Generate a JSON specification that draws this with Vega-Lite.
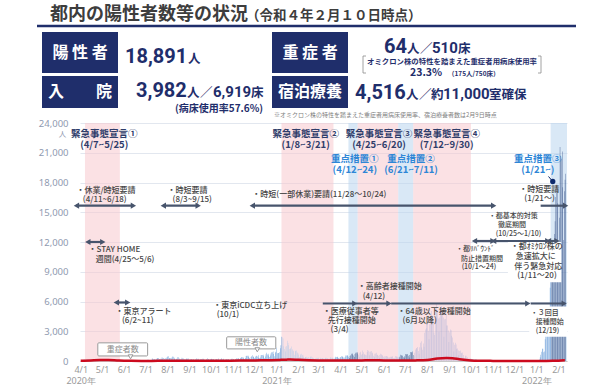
{
"$schema":"https://vega.github.io/schema/vega-lite/v6.json",
"padding":0,
"spacing":0,
"background":"white",
"datasets":{
"hdr":[
{"t":"都内の陽性者数等の状況","x":50,"y":15,"k":"h1"},
{"t":"（令和４年２月１０日時点）","x":246,"y":16,"k":"h2"},
{"t":"陽  性  者","x":80,"y":53,"k":"bx"},
{"t":"入　　院","x":80,"y":92,"k":"bx"},
{"t":"重  症  者","x":310,"y":53,"k":"bx"},
{"t":"宿泊療養","x":310,"y":92,"k":"bx"},
{"t":"18,891","x":125,"y":63,"k":"big"},
{"t":"3,982","x":136,"y":97,"k":"big"},
{"t":"64","x":384,"y":53,"k":"big"},
{"t":"4,516","x":355,"y":99,"k":"big"},
{"t":"6,919","x":213,"y":97,"k":"mid"},
{"t":"510","x":432,"y":53,"k":"mid"},
{"t":"11,000","x":443,"y":99,"k":"mid"},
{"t":"人","x":188,"y":63,"k":"unit"},
{"t":"人","x":187,"y":97,"k":"unit"},
{"t":"／","x":200,"y":97,"k":"unit"},
{"t":"床","x":251,"y":97,"k":"unit"},
{"t":"人","x":407,"y":53,"k":"unit"},
{"t":"／","x":420,"y":53,"k":"unit"},
{"t":"床","x":458,"y":53,"k":"unit"},
{"t":"人","x":406,"y":99,"k":"unit"},
{"t":"／","x":419,"y":99,"k":"unit"},
{"t":"約","x":431,"y":99,"k":"unit"},
{"t":"室確保","x":489,"y":99,"k":"unit"},
{"t":"(病床使用率57.6%)","x":175,"y":109,"k":"s1"},
{"t":"オミクロン株の特性を踏まえた重症者用病床使用率","x":452,"y":62,"k":"s2"},
{"t":"23.3%","x":410,"y":76,"k":"s3"},
{"t":"（175人/750床）","x":448,"y":76,"k":"s4"},
{"t":"※オミクロン株の特性を踏まえた重症者用病床使用率、宿泊療養者数は2月9日時点","x":274,"y":115,"k":"nt"}
],
"hbox":[
{"x":42,"x2":118,"y":32,"y2":73},
{"x":42,"x2":118,"y":76,"y2":108},
{"x":272,"x2":348,"y":32,"y2":73},
{"x":272,"x2":348,"y":76,"y2":108}
],
"hline":[
{"x":37,"x2":576,"y":26,"y2":26,"k":"u"},
{"x":363,"x2":363,"y":56,"y2":73,"k":"b"},
{"x":363,"x2":366,"y":56,"y2":56,"k":"b"},
{"x":363,"x2":366,"y":73,"y2":73,"k":"b"},
{"x":541,"x2":541,"y":56,"y2":73,"k":"b"},
{"x":538,"x2":541,"y":56,"y2":56,"k":"b"},
{"x":538,"x2":541,"y":73,"y2":73,"k":"b"}
],
"bands":[
{"a":"2020-04-07","b":"2020-05-26","t":"e"},
{"a":"2021-01-08","b":"2021-03-22","t":"e"},
{"a":"2021-04-12","b":"2021-04-25","t":"k"},
{"a":"2021-04-25","b":"2021-06-21","t":"e"},
{"a":"2021-06-21","b":"2021-07-12","t":"k"},
{"a":"2021-07-12","b":"2021-10-01","t":"e"},
{"a":"2022-01-21","b":"2022-02-13","t":"k"}
],
"sev":[
{"d":"2020-04-01","v":20},{"d":"2020-04-15","v":60},{"d":"2020-04-28","v":105},{"d":"2020-05-10","v":90},{"d":"2020-05-25","v":40},{"d":"2020-06-10","v":15},{"d":"2020-06-25","v":6},{"d":"2020-07-10","v":7},{"d":"2020-07-25","v":20},{"d":"2020-08-10","v":25},{"d":"2020-08-25","v":33},{"d":"2020-09-10","v":26},{"d":"2020-09-25","v":24},{"d":"2020-10-10","v":26},{"d":"2020-10-25","v":30},{"d":"2020-11-10","v":38},{"d":"2020-11-25","v":55},{"d":"2020-12-10","v":64},{"d":"2020-12-25","v":81},{"d":"2021-01-05","v":108},{"d":"2021-01-15","v":135},{"d":"2021-01-20","v":160},{"d":"2021-02-01","v":120},{"d":"2021-02-15","v":84},{"d":"2021-03-01","v":54},{"d":"2021-03-15","v":40},{"d":"2021-04-01","v":42},{"d":"2021-04-15","v":45},{"d":"2021-05-01","v":62},{"d":"2021-05-15","v":80},{"d":"2021-06-01","v":55},{"d":"2021-06-15","v":43},{"d":"2021-07-01","v":48},{"d":"2021-07-15","v":60},{"d":"2021-08-01","v":100},{"d":"2021-08-15","v":250},{"d":"2021-08-28","v":297},{"d":"2021-09-05","v":280},{"d":"2021-09-15","v":180},{"d":"2021-10-01","v":60},{"d":"2021-10-15","v":27},{"d":"2021-11-01","v":12},{"d":"2021-11-15","v":5},{"d":"2021-12-01","v":3},{"d":"2021-12-15","v":1},{"d":"2022-01-01","v":3},{"d":"2022-01-15","v":5},{"d":"2022-01-25","v":17},{"d":"2022-02-01","v":30},{"d":"2022-02-10","v":64}
],
"arr":[
{"a":"2020-03-26","b":"2020-06-14","y":15660,"h":"2"},
{"a":"2020-07-26","b":"2020-09-13","y":15660,"h":"2"},
{"a":"2020-11-28","b":"2021-11-02","y":15660,"h":"2"},
{"a":"2022-01-07","b":"2022-02-11","y":15660,"h":"r"},
{"a":"2021-10-06","b":"2021-11-01","y":12100,"h":"2"},
{"a":"2021-11-02","b":"2022-01-17","y":12100,"h":"2"},
{"a":"2022-01-18","b":"2022-01-30","y":12100,"h":"2"},
{"a":"2020-04-11","b":"2020-05-02","y":12000,"h":"2"},
{"a":"2020-05-21","b":"2020-06-06","y":5900,"h":"2"},
{"a":"2021-03-07","b":"2021-04-21","y":5800,"h":"r"},
{"a":"2021-04-22","b":"2021-06-08","y":5800,"h":"r"},
{"a":"2021-06-11","b":"2021-12-20","y":5800,"h":"r"},
{"a":"2021-12-24","b":"2022-02-09","y":5800,"h":"r"}
],
"boxes":[
{"a":"2020-04-25","b":"2020-07-04","y1":510,"y2":1830,"k":"c"},
{"a":"2020-10-23","b":"2020-12-31","y1":1220,"y2":2440,"k":"c"},
{"a":"2021-11-22","b":"2022-02-05","y1":7930,"y2":12000,"k":"w"},
{"a":"2021-12-22","b":"2022-02-13","y1":2440,"y2":5490,"k":"w"}
],
"ptr":[
{"d":"2020-06-10","v":420},
{"d":"2020-12-05","v":1130}
],
"lead":[
{"a":"2022-01-18","b":"2022-01-24","y1":18610,"y2":18100}
],
"dot":[
{"d":"2022-01-24","v":18100}
],
"ann":[
{"t":"緊急事態宣言①","d":"2020-05-04","y":22880,"k":"e"},
{"t":"(4/7~5/25)","d":"2020-05-04","y":21760,"k":"e"},
{"t":"緊急事態宣言②","d":"2021-02-11","y":22880,"k":"e"},
{"t":"(1/8~3/21)","d":"2021-02-11","y":21760,"k":"e"},
{"t":"緊急事態宣言③","d":"2021-05-25","y":22880,"k":"e"},
{"t":"(4/25~6/20)","d":"2021-05-25","y":21760,"k":"e"},
{"t":"緊急事態宣言④","d":"2021-08-28","y":22880,"k":"e"},
{"t":"(7/12~9/30)","d":"2021-08-28","y":21760,"k":"e"},
{"t":"重点措置①","d":"2021-04-21","y":20340,"k":"p"},
{"t":"(4/12~24)","d":"2021-04-21","y":19220,"k":"p"},
{"t":"重点措置②","d":"2021-07-09","y":20340,"k":"p"},
{"t":"(6/21~7/11)","d":"2021-07-09","y":19220,"k":"p"},
{"t":"重点措置③","d":"2022-01-03","y":20340,"k":"p"},
{"t":"(1/21~)","d":"2022-01-03","y":19220,"k":"p"},
{"t":"・休業/時短要請","d":"2020-03-26","y":17190,"k":"a"},
{"t":"(4/11~6/18)","d":"2020-04-04","y":16270,"k":"a"},
{"t":"・時短要請","d":"2020-08-01","y":17190,"k":"a"},
{"t":"(8/3~9/15)","d":"2020-08-08","y":16270,"k":"a"},
{"t":"・時短(一部休業)要請(11/28～10/24)","d":"2020-11-28","y":16780,"k":"a"},
{"t":"・時短要請","d":"2021-12-08","y":17290,"k":"a"},
{"t":"(1/21～)","d":"2021-12-15","y":16370,"k":"a"},
{"t":"・都基本的対策","d":"2021-10-26","y":14640,"k":"n"},
{"t":"徹底期間","d":"2021-11-08","y":13730,"k":"n"},
{"t":"(10/25～1/10)","d":"2021-11-05","y":12810,"k":"n"},
{"t":"・都ﾘﾊﾞｳﾝﾄﾞ","d":"2021-09-10","y":11290,"k":"n"},
{"t":"防止措置期間","d":"2021-09-17","y":10270,"k":"n"},
{"t":"(10/1～24)","d":"2021-09-18","y":9460,"k":"n"},
{"t":"・都ｵﾐｸﾛﾝ株の","d":"2021-11-26","y":11490,"k":"a"},
{"t":"急速拡大に","d":"2021-12-03","y":10470,"k":"a"},
{"t":"伴う緊急対応","d":"2021-12-01","y":9460,"k":"a"},
{"t":"(1/11～20)","d":"2021-12-05","y":8540,"k":"a"},
{"t":"・STAY HOME","d":"2020-04-12","y":11190,"k":"a"},
{"t":"週間(4/25～5/6)","d":"2020-04-22","y":10170,"k":"a"},
{"t":"・東京アラート","d":"2020-05-20","y":4980,"k":"a"},
{"t":"(6/2~11)","d":"2020-05-29","y":4070,"k":"a"},
{"t":"・東京iCDC立ち上げ","d":"2020-10-04","y":5590,"k":"a"},
{"t":"(10/1)","d":"2020-10-09","y":4680,"k":"a"},
{"t":"・医療従事者等","d":"2021-03-07","y":4980,"k":"a"},
{"t":"先行接種開始","d":"2021-03-14","y":4070,"k":"a"},
{"t":"(3/4)","d":"2021-03-18","y":3150,"k":"a"},
{"t":"・高齢者接種開始","d":"2021-04-25","y":7420,"k":"a"},
{"t":"(4/12)","d":"2021-05-02","y":6410,"k":"a"},
{"t":"・64歳以下接種開始","d":"2021-06-20","y":4980,"k":"a"},
{"t":"(6月以降)","d":"2021-06-27","y":4070,"k":"a"},
{"t":"・３回目","d":"2021-12-24","y":4880,"k":"n"},
{"t":"接種開始","d":"2021-12-31","y":3970,"k":"n"},
{"t":"(12/19)","d":"2021-12-31","y":3050,"k":"n"},
{"t":"重症者数","d":"2020-05-30","y":1120,"k":"c"},
{"t":"陽性者数","d":"2020-11-26","y":1830,"k":"c"}
],
"daily":[
{"d":"2020-04-01","v":66},{"d":"2020-04-02","v":97},{"d":"2020-04-03","v":89},{"d":"2020-04-04","v":118},{"d":"2020-04-05","v":143},{"d":"2020-04-06","v":83},{"d":"2020-04-07","v":80},{"d":"2020-04-08","v":144},{"d":"2020-04-09","v":178},{"d":"2020-04-10","v":189},{"d":"2020-04-11","v":197},{"d":"2020-04-12","v":166},{"d":"2020-04-13","v":91},{"d":"2020-04-14","v":161},{"d":"2020-04-15","v":127},{"d":"2020-04-16","v":149},{"d":"2020-04-17","v":201},{"d":"2020-04-18","v":181},{"d":"2020-04-19","v":107},{"d":"2020-04-20","v":102},{"d":"2020-04-21","v":123},{"d":"2020-04-22","v":132},{"d":"2020-04-23","v":134},{"d":"2020-04-24","v":161},{"d":"2020-04-25","v":103},{"d":"2020-04-26","v":72},{"d":"2020-04-27","v":39},{"d":"2020-04-28","v":112},{"d":"2020-04-29","v":47},{"d":"2020-04-30","v":46},
{"d":"2020-05-01","v":165},{"d":"2020-05-02","v":160},{"d":"2020-05-03","v":91},{"d":"2020-05-04","v":87},{"d":"2020-05-05","v":58},{"d":"2020-05-06","v":38},{"d":"2020-05-07","v":23},{"d":"2020-05-08","v":39},{"d":"2020-05-09","v":36},{"d":"2020-05-10","v":22},{"d":"2020-05-11","v":15},{"d":"2020-05-12","v":28},{"d":"2020-05-13","v":10},{"d":"2020-05-14","v":30},{"d":"2020-05-15","v":9},{"d":"2020-05-16","v":14},{"d":"2020-05-17","v":5},{"d":"2020-05-18","v":10},{"d":"2020-05-19","v":5},{"d":"2020-05-20","v":5},{"d":"2020-05-21","v":11},{"d":"2020-05-22","v":3},{"d":"2020-05-23","v":2},{"d":"2020-05-24","v":14},{"d":"2020-05-25","v":8},{"d":"2020-05-26","v":10},{"d":"2020-05-27","v":11},{"d":"2020-05-28","v":15},{"d":"2020-05-29","v":22},{"d":"2020-05-30","v":14},{"d":"2020-05-31","v":5},
{"d":"2020-06-01","v":13},{"d":"2020-06-02","v":34},{"d":"2020-06-03","v":12},{"d":"2020-06-04","v":28},{"d":"2020-06-05","v":20},{"d":"2020-06-06","v":26},{"d":"2020-06-07","v":14},{"d":"2020-06-08","v":13},{"d":"2020-06-09","v":12},{"d":"2020-06-10","v":18},{"d":"2020-06-11","v":22},{"d":"2020-06-12","v":25},{"d":"2020-06-13","v":24},{"d":"2020-06-14","v":47},{"d":"2020-06-15","v":48},{"d":"2020-06-16","v":27},{"d":"2020-06-17","v":16},{"d":"2020-06-18","v":41},{"d":"2020-06-19","v":35},{"d":"2020-06-20","v":39},{"d":"2020-06-21","v":35},{"d":"2020-06-22","v":29},{"d":"2020-06-23","v":31},{"d":"2020-06-24","v":55},{"d":"2020-06-25","v":48},{"d":"2020-06-26","v":54},{"d":"2020-06-27","v":57},{"d":"2020-06-28","v":60},{"d":"2020-06-29","v":58},{"d":"2020-06-30","v":54},
{"d":"2020-07-01","v":67},{"d":"2020-07-02","v":107},{"d":"2020-07-03","v":124},{"d":"2020-07-04","v":131},{"d":"2020-07-05","v":111},{"d":"2020-07-06","v":102},{"d":"2020-07-07","v":106},{"d":"2020-07-08","v":75},{"d":"2020-07-09","v":224},{"d":"2020-07-10","v":243},{"d":"2020-07-11","v":206},{"d":"2020-07-12","v":206},{"d":"2020-07-13","v":119},{"d":"2020-07-14","v":143},{"d":"2020-07-15","v":165},{"d":"2020-07-16","v":286},{"d":"2020-07-17","v":293},{"d":"2020-07-18","v":290},{"d":"2020-07-19","v":188},{"d":"2020-07-20","v":168},{"d":"2020-07-21","v":237},{"d":"2020-07-22","v":238},{"d":"2020-07-23","v":366},{"d":"2020-07-24","v":260},{"d":"2020-07-25","v":295},{"d":"2020-07-26","v":239},{"d":"2020-07-27","v":131},{"d":"2020-07-28","v":266},{"d":"2020-07-29","v":250},{"d":"2020-07-30","v":367},{"d":"2020-07-31","v":463},
{"d":"2020-08-01","v":472},{"d":"2020-08-02","v":292},{"d":"2020-08-03","v":258},{"d":"2020-08-04","v":309},{"d":"2020-08-05","v":263},{"d":"2020-08-06","v":360},{"d":"2020-08-07","v":462},{"d":"2020-08-08","v":429},{"d":"2020-08-09","v":331},{"d":"2020-08-10","v":197},{"d":"2020-08-11","v":188},{"d":"2020-08-12","v":222},{"d":"2020-08-13","v":206},{"d":"2020-08-14","v":389},{"d":"2020-08-15","v":385},{"d":"2020-08-16","v":260},{"d":"2020-08-17","v":161},{"d":"2020-08-18","v":207},{"d":"2020-08-19","v":186},{"d":"2020-08-20","v":339},{"d":"2020-08-21","v":258},{"d":"2020-08-22","v":256},{"d":"2020-08-23","v":212},{"d":"2020-08-24","v":95},{"d":"2020-08-25","v":182},{"d":"2020-08-26","v":236},{"d":"2020-08-27","v":250},{"d":"2020-08-28","v":226},{"d":"2020-08-29","v":247},{"d":"2020-08-30","v":148},{"d":"2020-08-31","v":100},
{"d":"2020-09-01","v":170},{"d":"2020-09-02","v":141},{"d":"2020-09-03","v":211},{"d":"2020-09-04","v":136},{"d":"2020-09-05","v":181},{"d":"2020-09-06","v":116},{"d":"2020-09-07","v":77},{"d":"2020-09-08","v":170},{"d":"2020-09-09","v":149},{"d":"2020-09-10","v":276},{"d":"2020-09-11","v":187},{"d":"2020-09-12","v":226},{"d":"2020-09-13","v":146},{"d":"2020-09-14","v":80},{"d":"2020-09-15","v":191},{"d":"2020-09-16","v":163},{"d":"2020-09-17","v":172},{"d":"2020-09-18","v":220},{"d":"2020-09-19","v":218},{"d":"2020-09-20","v":162},{"d":"2020-09-21","v":98},{"d":"2020-09-22","v":88},{"d":"2020-09-23","v":59},{"d":"2020-09-24","v":195},{"d":"2020-09-25","v":270},{"d":"2020-09-26","v":212},{"d":"2020-09-27","v":177},{"d":"2020-09-28","v":78},{"d":"2020-09-29","v":191},{"d":"2020-09-30","v":194},
{"d":"2020-10-01","v":235},{"d":"2020-10-02","v":196},{"d":"2020-10-03","v":207},{"d":"2020-10-04","v":143},{"d":"2020-10-05","v":78},{"d":"2020-10-06","v":178},{"d":"2020-10-07","v":177},{"d":"2020-10-08","v":186},{"d":"2020-10-09","v":187},{"d":"2020-10-10","v":249},{"d":"2020-10-11","v":146},{"d":"2020-10-12","v":78},{"d":"2020-10-13","v":166},{"d":"2020-10-14","v":177},{"d":"2020-10-15","v":284},{"d":"2020-10-16","v":185},{"d":"2020-10-17","v":235},{"d":"2020-10-18","v":144},{"d":"2020-10-19","v":78},{"d":"2020-10-20","v":139},{"d":"2020-10-21","v":150},{"d":"2020-10-22","v":185},{"d":"2020-10-23","v":186},{"d":"2020-10-24","v":203},{"d":"2020-10-25","v":124},{"d":"2020-10-26","v":102},{"d":"2020-10-27","v":158},{"d":"2020-10-28","v":171},{"d":"2020-10-29","v":221},{"d":"2020-10-30","v":215},{"d":"2020-10-31","v":209},
{"d":"2020-11-01","v":116},{"d":"2020-11-02","v":87},{"d":"2020-11-03","v":209},{"d":"2020-11-04","v":122},{"d":"2020-11-05","v":269},{"d":"2020-11-06","v":242},{"d":"2020-11-07","v":294},{"d":"2020-11-08","v":189},{"d":"2020-11-09","v":157},{"d":"2020-11-10","v":293},{"d":"2020-11-11","v":317},{"d":"2020-11-12","v":393},{"d":"2020-11-13","v":374},{"d":"2020-11-14","v":352},{"d":"2020-11-15","v":255},{"d":"2020-11-16","v":180},{"d":"2020-11-17","v":298},{"d":"2020-11-18","v":493},{"d":"2020-11-19","v":534},{"d":"2020-11-20","v":522},{"d":"2020-11-21","v":539},{"d":"2020-11-22","v":391},{"d":"2020-11-23","v":314},{"d":"2020-11-24","v":186},{"d":"2020-11-25","v":401},{"d":"2020-11-26","v":481},{"d":"2020-11-27","v":570},{"d":"2020-11-28","v":418},{"d":"2020-11-29","v":418},{"d":"2020-11-30","v":311},
{"d":"2020-12-01","v":372},{"d":"2020-12-02","v":500},{"d":"2020-12-03","v":533},{"d":"2020-12-04","v":449},{"d":"2020-12-05","v":584},{"d":"2020-12-06","v":327},{"d":"2020-12-07","v":299},{"d":"2020-12-08","v":352},{"d":"2020-12-09","v":572},{"d":"2020-12-10","v":602},{"d":"2020-12-11","v":595},{"d":"2020-12-12","v":621},{"d":"2020-12-13","v":480},{"d":"2020-12-14","v":305},{"d":"2020-12-15","v":460},{"d":"2020-12-16","v":678},{"d":"2020-12-17","v":822},{"d":"2020-12-18","v":664},{"d":"2020-12-19","v":736},{"d":"2020-12-20","v":556},{"d":"2020-12-21","v":392},{"d":"2020-12-22","v":563},{"d":"2020-12-23","v":748},{"d":"2020-12-24","v":888},{"d":"2020-12-25","v":884},{"d":"2020-12-26","v":949},{"d":"2020-12-27","v":708},{"d":"2020-12-28","v":481},{"d":"2020-12-29","v":856},{"d":"2020-12-30","v":944},{"d":"2020-12-31","v":1337},
{"d":"2021-01-01","v":783},{"d":"2021-01-02","v":814},{"d":"2021-01-03","v":816},{"d":"2021-01-04","v":884},{"d":"2021-01-05","v":1278},{"d":"2021-01-06","v":1591},{"d":"2021-01-07","v":2447},{"d":"2021-01-08","v":2392},{"d":"2021-01-09","v":2268},{"d":"2021-01-10","v":1494},{"d":"2021-01-11","v":1219},{"d":"2021-01-12","v":970},{"d":"2021-01-13","v":1433},{"d":"2021-01-14","v":1502},{"d":"2021-01-15","v":2044},{"d":"2021-01-16","v":1809},{"d":"2021-01-17","v":1592},{"d":"2021-01-18","v":1204},{"d":"2021-01-19","v":1240},{"d":"2021-01-20","v":1274},{"d":"2021-01-21","v":1471},{"d":"2021-01-22","v":1175},{"d":"2021-01-23","v":1070},{"d":"2021-01-24","v":986},{"d":"2021-01-25","v":618},{"d":"2021-01-26","v":1026},{"d":"2021-01-27","v":973},{"d":"2021-01-28","v":1064},{"d":"2021-01-29","v":868},{"d":"2021-01-30","v":769},{"d":"2021-01-31","v":633},
{"d":"2021-02-01","v":393},{"d":"2021-02-02","v":556},{"d":"2021-02-03","v":676},{"d":"2021-02-04","v":734},{"d":"2021-02-05","v":577},{"d":"2021-02-06","v":639},{"d":"2021-02-07","v":429},{"d":"2021-02-08","v":276},{"d":"2021-02-09","v":412},{"d":"2021-02-10","v":412},{"d":"2021-02-11","v":434},{"d":"2021-02-12","v":307},{"d":"2021-02-13","v":369},{"d":"2021-02-14","v":371},{"d":"2021-02-15","v":266},{"d":"2021-02-16","v":378},{"d":"2021-02-17","v":445},{"d":"2021-02-18","v":445},{"d":"2021-02-19","v":353},{"d":"2021-02-20","v":327},{"d":"2021-02-21","v":272},{"d":"2021-02-22","v":178},{"d":"2021-02-23","v":275},{"d":"2021-02-24","v":213},{"d":"2021-02-25","v":340},{"d":"2021-02-26","v":270},{"d":"2021-02-27","v":337},{"d":"2021-02-28","v":329},
{"d":"2021-03-01","v":121},{"d":"2021-03-02","v":232},{"d":"2021-03-03","v":316},{"d":"2021-03-04","v":279},{"d":"2021-03-05","v":301},{"d":"2021-03-06","v":293},{"d":"2021-03-07","v":237},{"d":"2021-03-08","v":116},{"d":"2021-03-09","v":290},{"d":"2021-03-10","v":340},{"d":"2021-03-11","v":335},{"d":"2021-03-12","v":304},{"d":"2021-03-13","v":239},{"d":"2021-03-14","v":239},{"d":"2021-03-15","v":175},{"d":"2021-03-16","v":300},{"d":"2021-03-17","v":409},{"d":"2021-03-18","v":323},{"d":"2021-03-19","v":303},{"d":"2021-03-20","v":342},{"d":"2021-03-21","v":256},{"d":"2021-03-22","v":187},{"d":"2021-03-23","v":337},{"d":"2021-03-24","v":420},{"d":"2021-03-25","v":394},{"d":"2021-03-26","v":376},{"d":"2021-03-27","v":430},{"d":"2021-03-28","v":313},{"d":"2021-03-29","v":234},{"d":"2021-03-30","v":364},{"d":"2021-03-31","v":414},
{"d":"2021-04-01","v":475},{"d":"2021-04-02","v":440},{"d":"2021-04-03","v":446},{"d":"2021-04-04","v":355},{"d":"2021-04-05","v":249},{"d":"2021-04-06","v":399},{"d":"2021-04-07","v":555},{"d":"2021-04-08","v":545},{"d":"2021-04-09","v":537},{"d":"2021-04-10","v":570},{"d":"2021-04-11","v":421},{"d":"2021-04-12","v":306},{"d":"2021-04-13","v":510},{"d":"2021-04-14","v":591},{"d":"2021-04-15","v":729},{"d":"2021-04-16","v":667},{"d":"2021-04-17","v":759},{"d":"2021-04-18","v":543},{"d":"2021-04-19","v":405},{"d":"2021-04-20","v":711},{"d":"2021-04-21","v":843},{"d":"2021-04-22","v":861},{"d":"2021-04-23","v":759},{"d":"2021-04-24","v":876},{"d":"2021-04-25","v":635},{"d":"2021-04-26","v":425},{"d":"2021-04-27","v":828},{"d":"2021-04-28","v":925},{"d":"2021-04-29","v":629},{"d":"2021-04-30","v":698},
{"d":"2021-05-01","v":1050},{"d":"2021-05-02","v":879},{"d":"2021-05-03","v":708},{"d":"2021-05-04","v":609},{"d":"2021-05-05","v":621},{"d":"2021-05-06","v":591},{"d":"2021-05-07","v":907},{"d":"2021-05-08","v":1121},{"d":"2021-05-09","v":1032},{"d":"2021-05-10","v":573},{"d":"2021-05-11","v":925},{"d":"2021-05-12","v":969},{"d":"2021-05-13","v":1010},{"d":"2021-05-14","v":854},{"d":"2021-05-15","v":772},{"d":"2021-05-16","v":542},{"d":"2021-05-17","v":419},{"d":"2021-05-18","v":732},{"d":"2021-05-19","v":766},{"d":"2021-05-20","v":843},{"d":"2021-05-21","v":614},{"d":"2021-05-22","v":620},{"d":"2021-05-23","v":535},{"d":"2021-05-24","v":340},{"d":"2021-05-25","v":597},{"d":"2021-05-26","v":743},{"d":"2021-05-27","v":684},{"d":"2021-05-28","v":614},{"d":"2021-05-29","v":539},{"d":"2021-05-30","v":419},{"d":"2021-05-31","v":260},
{"d":"2021-06-01","v":471},{"d":"2021-06-02","v":487},{"d":"2021-06-03","v":508},{"d":"2021-06-04","v":472},{"d":"2021-06-05","v":436},{"d":"2021-06-06","v":351},{"d":"2021-06-07","v":235},{"d":"2021-06-08","v":369},{"d":"2021-06-09","v":440},{"d":"2021-06-10","v":439},{"d":"2021-06-11","v":435},{"d":"2021-06-12","v":467},{"d":"2021-06-13","v":304},{"d":"2021-06-14","v":209},{"d":"2021-06-15","v":337},{"d":"2021-06-16","v":501},{"d":"2021-06-17","v":452},{"d":"2021-06-18","v":453},{"d":"2021-06-19","v":388},{"d":"2021-06-20","v":376},{"d":"2021-06-21","v":236},{"d":"2021-06-22","v":435},{"d":"2021-06-23","v":619},{"d":"2021-06-24","v":570},{"d":"2021-06-25","v":562},{"d":"2021-06-26","v":534},{"d":"2021-06-27","v":386},{"d":"2021-06-28","v":317},{"d":"2021-06-29","v":476},{"d":"2021-06-30","v":714},
{"d":"2021-07-01","v":673},{"d":"2021-07-02","v":660},{"d":"2021-07-03","v":716},{"d":"2021-07-04","v":518},{"d":"2021-07-05","v":342},{"d":"2021-07-06","v":593},{"d":"2021-07-07","v":920},{"d":"2021-07-08","v":896},{"d":"2021-07-09","v":822},{"d":"2021-07-10","v":950},{"d":"2021-07-11","v":614},{"d":"2021-07-12","v":502},{"d":"2021-07-13","v":830},{"d":"2021-07-14","v":1149},{"d":"2021-07-15","v":1308},{"d":"2021-07-16","v":1271},{"d":"2021-07-17","v":1410},{"d":"2021-07-18","v":1008},{"d":"2021-07-19","v":727},{"d":"2021-07-20","v":1387},{"d":"2021-07-21","v":1832},{"d":"2021-07-22","v":1979},{"d":"2021-07-23","v":1359},{"d":"2021-07-24","v":1128},{"d":"2021-07-25","v":1763},{"d":"2021-07-26","v":1429},{"d":"2021-07-27","v":2848},{"d":"2021-07-28","v":3177},{"d":"2021-07-29","v":3865},{"d":"2021-07-30","v":3300},{"d":"2021-07-31","v":4058},
{"d":"2021-08-01","v":3058},{"d":"2021-08-02","v":2195},{"d":"2021-08-03","v":3709},{"d":"2021-08-04","v":4166},{"d":"2021-08-05","v":5042},{"d":"2021-08-06","v":4515},{"d":"2021-08-07","v":4566},{"d":"2021-08-08","v":4066},{"d":"2021-08-09","v":2884},{"d":"2021-08-10","v":2612},{"d":"2021-08-11","v":4200},{"d":"2021-08-12","v":4989},{"d":"2021-08-13","v":5773},{"d":"2021-08-14","v":5094},{"d":"2021-08-15","v":4295},{"d":"2021-08-16","v":2962},{"d":"2021-08-17","v":4377},{"d":"2021-08-18","v":5386},{"d":"2021-08-19","v":5534},{"d":"2021-08-20","v":5405},{"d":"2021-08-21","v":5074},{"d":"2021-08-22","v":4392},{"d":"2021-08-23","v":2447},{"d":"2021-08-24","v":4220},{"d":"2021-08-25","v":4228},{"d":"2021-08-26","v":4704},{"d":"2021-08-27","v":3581},{"d":"2021-08-28","v":3581},{"d":"2021-08-29","v":3081},{"d":"2021-08-30","v":1915},{"d":"2021-08-31","v":2909},
{"d":"2021-09-01","v":3168},{"d":"2021-09-02","v":3099},{"d":"2021-09-03","v":2539},{"d":"2021-09-04","v":2362},{"d":"2021-09-05","v":1853},{"d":"2021-09-06","v":968},{"d":"2021-09-07","v":1629},{"d":"2021-09-08","v":1834},{"d":"2021-09-09","v":1675},{"d":"2021-09-10","v":1242},{"d":"2021-09-11","v":1273},{"d":"2021-09-12","v":1067},{"d":"2021-09-13","v":611},{"d":"2021-09-14","v":1004},{"d":"2021-09-15","v":1052},{"d":"2021-09-16","v":831},{"d":"2021-09-17","v":782},{"d":"2021-09-18","v":862},{"d":"2021-09-19","v":599},{"d":"2021-09-20","v":302},{"d":"2021-09-21","v":253},{"d":"2021-09-22","v":537},{"d":"2021-09-23","v":531},{"d":"2021-09-24","v":235},{"d":"2021-09-25","v":382},{"d":"2021-09-26","v":241},{"d":"2021-09-27","v":154},{"d":"2021-09-28","v":248},{"d":"2021-09-29","v":267},{"d":"2021-09-30","v":218},
{"d":"2021-10-01","v":200},{"d":"2021-10-02","v":196},{"d":"2021-10-03","v":161},{"d":"2021-10-04","v":87},{"d":"2021-10-05","v":149},{"d":"2021-10-06","v":144},{"d":"2021-10-07","v":143},{"d":"2021-10-08","v":138},{"d":"2021-10-09","v":82},{"d":"2021-10-10","v":60},{"d":"2021-10-11","v":49},{"d":"2021-10-12","v":77},{"d":"2021-10-13","v":72},{"d":"2021-10-14","v":62},{"d":"2021-10-15","v":65},{"d":"2021-10-16","v":66},{"d":"2021-10-17","v":40},{"d":"2021-10-18","v":29},{"d":"2021-10-19","v":36},{"d":"2021-10-20","v":41},{"d":"2021-10-21","v":36},{"d":"2021-10-22","v":26},{"d":"2021-10-23","v":32},{"d":"2021-10-24","v":19},{"d":"2021-10-25","v":17},{"d":"2021-10-26","v":29},{"d":"2021-10-27","v":36},{"d":"2021-10-28","v":21},{"d":"2021-10-29","v":23},{"d":"2021-10-30","v":22},{"d":"2021-10-31","v":17},
{"d":"2021-11-01","v":9},{"d":"2021-11-02","v":18},{"d":"2021-11-03","v":24},{"d":"2021-11-04","v":18},{"d":"2021-11-05","v":25},{"d":"2021-11-06","v":23},{"d":"2021-11-07","v":13},{"d":"2021-11-08","v":15},{"d":"2021-11-09","v":20},{"d":"2021-11-10","v":28},{"d":"2021-11-11","v":27},{"d":"2021-11-12","v":30},{"d":"2021-11-13","v":30},{"d":"2021-11-14","v":16},{"d":"2021-11-15","v":11},{"d":"2021-11-16","v":16},{"d":"2021-11-17","v":24},{"d":"2021-11-18","v":21},{"d":"2021-11-19","v":20},{"d":"2021-11-20","v":19},{"d":"2021-11-21","v":9},{"d":"2021-11-22","v":6},{"d":"2021-11-23","v":11},{"d":"2021-11-24","v":10},{"d":"2021-11-25","v":19},{"d":"2021-11-26","v":24},{"d":"2021-11-27","v":22},{"d":"2021-11-28","v":16},{"d":"2021-11-29","v":8},{"d":"2021-11-30","v":17},
{"d":"2021-12-01","v":14},{"d":"2021-12-02","v":22},{"d":"2021-12-03","v":26},{"d":"2021-12-04","v":21},{"d":"2021-12-05","v":15},{"d":"2021-12-06","v":13},{"d":"2021-12-07","v":14},{"d":"2021-12-08","v":21},{"d":"2021-12-09","v":21},{"d":"2021-12-10","v":20},{"d":"2021-12-11","v":25},{"d":"2021-12-12","v":17},{"d":"2021-12-13","v":8},{"d":"2021-12-14","v":23},{"d":"2021-12-15","v":25},{"d":"2021-12-16","v":21},{"d":"2021-12-17","v":29},{"d":"2021-12-18","v":28},{"d":"2021-12-19","v":31},{"d":"2021-12-20","v":12},{"d":"2021-12-21","v":22},{"d":"2021-12-22","v":31},{"d":"2021-12-23","v":36},{"d":"2021-12-24","v":34},{"d":"2021-12-25","v":37},{"d":"2021-12-26","v":42},{"d":"2021-12-27","v":30},{"d":"2021-12-28","v":46},{"d":"2021-12-29","v":76},{"d":"2021-12-30","v":64},{"d":"2021-12-31","v":78},
{"d":"2022-01-01","v":79},{"d":"2022-01-02","v":84},{"d":"2022-01-03","v":103},{"d":"2022-01-04","v":151},{"d":"2022-01-05","v":390},{"d":"2022-01-06","v":641},{"d":"2022-01-07","v":922},{"d":"2022-01-08","v":1224},{"d":"2022-01-09","v":1223},{"d":"2022-01-10","v":871},{"d":"2022-01-11","v":962},{"d":"2022-01-12","v":2198},{"d":"2022-01-13","v":3124},{"d":"2022-01-14","v":4051},{"d":"2022-01-15","v":4561},{"d":"2022-01-16","v":4172},{"d":"2022-01-17","v":3719},{"d":"2022-01-18","v":5185},{"d":"2022-01-19","v":7377},{"d":"2022-01-20","v":8638},{"d":"2022-01-21","v":9699},{"d":"2022-01-22","v":11227},{"d":"2022-01-23","v":9468},{"d":"2022-01-24","v":8503},{"d":"2022-01-25","v":12813},{"d":"2022-01-26","v":14086},{"d":"2022-01-27","v":16538},{"d":"2022-01-28","v":17631},{"d":"2022-01-29","v":17433},{"d":"2022-01-30","v":15895},{"d":"2022-01-31","v":11751},
{"d":"2022-02-01","v":14445},{"d":"2022-02-02","v":21576},{"d":"2022-02-03","v":20679},{"d":"2022-02-04","v":20402},{"d":"2022-02-05","v":21121},{"d":"2022-02-06","v":17526},{"d":"2022-02-07","v":12214},{"d":"2022-02-08","v":17113},{"d":"2022-02-09","v":18287},{"d":"2022-02-10","v":18891}
]
},
"vconcat":[
{
"width":520,"height":118,
"layer":[
{"data":{"name":"hbox"},"mark":{"type":"rect","color":"#1f2e6b"},
 "encoding":{"x":{"field":"x","type":"quantitative","scale":{"domain":[80,600],"nice":false,"zero":false},"axis":null},"x2":{"field":"x2"},
 "y":{"field":"y","type":"quantitative","scale":{"domain":[0,118],"nice":false,"zero":false,"reverse":true},"axis":null},"y2":{"field":"y2"}}},
{"data":{"name":"hline"},"transform":[{"filter":"datum.k=='u'"}],"mark":{"type":"rule","color":"#1f2e6b","strokeWidth":2.5},
 "encoding":{"x":{"field":"x","type":"quantitative"},"x2":{"field":"x2"},"y":{"field":"y","type":"quantitative"},"y2":{"field":"y2"}}},
{"data":{"name":"hline"},"transform":[{"filter":"datum.k=='b'"}],"mark":{"type":"rule","color":"#8a8a8a","strokeWidth":0.8},
 "encoding":{"x":{"field":"x","type":"quantitative"},"x2":{"field":"x2"},"y":{"field":"y","type":"quantitative"},"y2":{"field":"y2"}}},
{"data":{"name":"hdr"},"transform":[{"filter":"datum.k=='h1'"}],"mark":{"type":"text","font":"Noto Sans CJK JP","fontSize":18,"fontWeight":"bold","color":"#3d3d3d","align":"left","baseline":"middle"},
 "encoding":{"x":{"field":"x","type":"quantitative"},"y":{"field":"y","type":"quantitative"},"text":{"field":"t"}}},
{"data":{"name":"hdr"},"transform":[{"filter":"datum.k=='h2'"}],"mark":{"type":"text","font":"Noto Sans CJK JP","fontSize":13.5,"fontWeight":"bold","color":"#3d3d3d","align":"left","baseline":"middle"},
 "encoding":{"x":{"field":"x","type":"quantitative"},"y":{"field":"y","type":"quantitative"},"text":{"field":"t"}}},
{"data":{"name":"hdr"},"transform":[{"filter":"datum.k=='bx'"}],"mark":{"type":"text","font":"Noto Sans CJK JP","fontSize":16,"fontWeight":"bold","color":"white","align":"center","baseline":"middle"},
 "encoding":{"x":{"field":"x","type":"quantitative"},"y":{"field":"y","type":"quantitative"},"text":{"field":"t"}}},
{"data":{"name":"hdr"},"transform":[{"filter":"datum.k=='big'"}],"mark":{"type":"text","font":"Roboto","fontSize":20,"fontWeight":"bold","color":"#1f2e6b","align":"left","baseline":"alphabetic"},
 "encoding":{"x":{"field":"x","type":"quantitative"},"y":{"field":"y","type":"quantitative"},"text":{"field":"t"}}},
{"data":{"name":"hdr"},"transform":[{"filter":"datum.k=='mid'"}],"mark":{"type":"text","font":"Roboto","fontSize":15,"fontWeight":"bold","color":"#1f2e6b","align":"left","baseline":"alphabetic"},
 "encoding":{"x":{"field":"x","type":"quantitative"},"y":{"field":"y","type":"quantitative"},"text":{"field":"t"}}},
{"data":{"name":"hdr"},"transform":[{"filter":"datum.k=='unit'"}],"mark":{"type":"text","font":"Noto Sans CJK JP","fontSize":12.5,"fontWeight":"bold","color":"#1f2e6b","align":"left","baseline":"alphabetic"},
 "encoding":{"x":{"field":"x","type":"quantitative"},"y":{"field":"y","type":"quantitative"},"text":{"field":"t"}}},
{"data":{"name":"hdr"},"transform":[{"filter":"datum.k=='s1'"}],"mark":{"type":"text","font":"Noto Sans CJK JP","fontSize":10,"fontWeight":"bold","color":"#1f2e6b","align":"left","baseline":"middle"},
 "encoding":{"x":{"field":"x","type":"quantitative"},"y":{"field":"y","type":"quantitative"},"text":{"field":"t"}}},
{"data":{"name":"hdr"},"transform":[{"filter":"datum.k=='s2'"}],"mark":{"type":"text","font":"Noto Sans CJK JP","fontSize":7.4,"fontWeight":"bold","color":"#1f2e6b","align":"center","baseline":"middle"},
 "encoding":{"x":{"field":"x","type":"quantitative"},"y":{"field":"y","type":"quantitative"},"text":{"field":"t"}}},
{"data":{"name":"hdr"},"transform":[{"filter":"datum.k=='s3'"}],"mark":{"type":"text","font":"Noto Sans CJK JP","fontSize":10.5,"fontWeight":"bold","color":"#1f2e6b","align":"left","baseline":"alphabetic"},
 "encoding":{"x":{"field":"x","type":"quantitative"},"y":{"field":"y","type":"quantitative"},"text":{"field":"t"}}},
{"data":{"name":"hdr"},"transform":[{"filter":"datum.k=='s4'"}],"mark":{"type":"text","font":"Noto Sans CJK JP","fontSize":6.5,"fontWeight":"bold","color":"#1f2e6b","align":"left","baseline":"alphabetic"},
 "encoding":{"x":{"field":"x","type":"quantitative"},"y":{"field":"y","type":"quantitative"},"text":{"field":"t"}}},
{"data":{"name":"hdr"},"transform":[{"filter":"datum.k=='nt'"}],"mark":{"type":"text","font":"Noto Sans CJK JP","fontSize":6,"color":"#808080","align":"left","baseline":"middle"},
 "encoding":{"x":{"field":"x","type":"quantitative"},"y":{"field":"y","type":"quantitative"},"text":{"field":"t"}}}
]
},
{
"width":487,"height":238,
"layer":[
{"data":{"name":"bands"},"mark":{"type":"rect","opacity":0.55},
 "encoding":{
  "x":{"field":"a","type":"temporal","scale":{"type":"utc","domain":[{"year":2020,"month":3,"date":31,"utc":true},{"year":2022,"month":2,"date":13,"utc":true}]},
   "axis":{"title":null,"tickCount":{"interval":"month","step":1},"grid":false,"ticks":false,"domainColor":"#c8c8c8","labelColor":"#9a9a9a","labelFontSize":9,"labelFont":"Noto Sans","labelPadding":4,"labelLineHeight":11,"labelOverlap":false,"labelFlush":false,"labelBound":false,
   "labelExpr":"(utcmonth(datum.value)==0 || (utcyear(datum.value)==2020 && utcmonth(datum.value)==3)) ? [utcFormat(datum.value,'%-m/%-d'), utcyear(datum.value)+'年'] : utcFormat(datum.value,'%-m/%-d')"}},
  "x2":{"field":"b"},
  "color":{"field":"t","type":"nominal","scale":{"domain":["e","k"],"range":["#f8c9ce","#b9d6ee"]},"legend":null}}},
{"data":{"name":"daily"},"mark":{"type":"bar"},
 "encoding":{
  "x":{"field":"d","type":"temporal","timeUnit":"utcyearmonthdate"},
  "y":{"field":"v","type":"quantitative","scale":{"domain":[0,24000],"nice":false},
   "axis":{"title":"人","titleAngle":0,"titleX":-18,"titleY":11,"titleAlign":"center","titleBaseline":"middle","titleFontSize":7.5,"titleFontWeight":"normal","titleColor":"#8f9ab0",
   "values":[0,3000,6000,9000,12000,15000,18000,21000,24000],"tickCount":20,"format":",d","labelColor":"#8f9ab0","labelFontSize":9.5,"labelFont":"Noto Sans","labelOverlap":false,"ticks":false,"domain":false,"labelPadding":12,"minExtent":80,"maxExtent":80,"grid":true,"gridColor":"#e2e7ef"}},
  "color":{"condition":[
   {"test":"(datum.d >= toDate('2021-04-12') && datum.d < toDate('2021-04-25')) || (datum.d >= toDate('2021-06-21') && datum.d < toDate('2021-07-12')) || datum.d >= toDate('2022-01-21')","value":"#0d2a6c"},
   {"test":"datum.d >= toDate('2021-04-25') && datum.d < toDate('2021-10-01')","value":"#a5add7"},
   {"test":"(datum.d >= toDate('2021-01-08') && datum.d < toDate('2021-03-22')) || (datum.d >= toDate('2020-04-07') && datum.d < toDate('2020-05-26'))","value":"#9ec3ea"}
  ],"value":"#1f6dc4"}}},
{"data":{"name":"sev"},"mark":{"type":"line","color":"#cc0a1e","strokeWidth":2.5,"interpolate":"monotone"},
 "encoding":{"x":{"field":"d","type":"temporal"},"y":{"field":"v","type":"quantitative"}}},
{"data":{"name":"boxes"},"transform":[{"filter":"datum.k=='w'"}],"mark":{"type":"rect","color":"white"},
 "encoding":{"x":{"field":"a","type":"temporal"},"x2":{"field":"b"},"y":{"field":"y1","type":"quantitative"},"y2":{"field":"y2"}}},
{"data":{"name":"boxes"},"transform":[{"filter":"datum.k=='c'"}],"mark":{"type":"rect","fill":"white","stroke":"#9a9a9a","strokeWidth":1,"cornerRadius":1},
 "encoding":{"x":{"field":"a","type":"temporal"},"x2":{"field":"b"},"y":{"field":"y1","type":"quantitative"},"y2":{"field":"y2"}}},
{"data":{"name":"ptr"},"mark":{"type":"point","shape":"triangle-down","filled":true,"fill":"white","stroke":"#9a9a9a","strokeWidth":1,"size":22,"opacity":1},
 "encoding":{"x":{"field":"d","type":"temporal"},"y":{"field":"v","type":"quantitative"}}},
{"data":{"name":"arr"},"mark":{"type":"rule","color":"#47546c","strokeWidth":2.2},
 "encoding":{"x":{"field":"a","type":"temporal"},"x2":{"field":"b"},"y":{"field":"y","type":"quantitative"}}},
{"data":{"name":"arr"},"transform":[{"filter":"datum.h=='2'"}],"mark":{"type":"point","shape":"triangle-left","filled":true,"color":"#47546c","size":38,"opacity":1},
 "encoding":{"x":{"field":"a","type":"temporal"},"y":{"field":"y","type":"quantitative"}}},
{"data":{"name":"arr"},"mark":{"type":"point","shape":"triangle-right","filled":true,"color":"#47546c","size":38,"opacity":1},
 "encoding":{"x":{"field":"b","type":"temporal"},"y":{"field":"y","type":"quantitative"}}},
{"data":{"name":"lead"},"mark":{"type":"rule","color":"#0d2a6c","strokeWidth":1},
 "encoding":{"x":{"field":"a","type":"temporal"},"x2":{"field":"b"},"y":{"field":"y1","type":"quantitative"},"y2":{"field":"y2"}}},
{"data":{"name":"dot"},"mark":{"type":"point","shape":"circle","filled":true,"color":"#0d2a6c","size":28,"opacity":1},
 "encoding":{"x":{"field":"d","type":"temporal"},"y":{"field":"v","type":"quantitative"}}},
{"data":{"name":"ann"},"transform":[{"filter":"datum.k=='e'"}],"mark":{"type":"text","font":"Noto Sans CJK JP","fontSize":9.5,"fontWeight":"bold","color":"#2f3d6a","align":"center","baseline":"middle"},
 "encoding":{"x":{"field":"d","type":"temporal"},"y":{"field":"y","type":"quantitative"},"text":{"field":"t"}}},
{"data":{"name":"ann"},"transform":[{"filter":"datum.k=='p'"}],"mark":{"type":"text","font":"Noto Sans CJK JP","fontSize":9.5,"fontWeight":"bold","color":"#2e86d6","align":"center","baseline":"middle"},
 "encoding":{"x":{"field":"d","type":"temporal"},"y":{"field":"y","type":"quantitative"},"text":{"field":"t"}}},
{"data":{"name":"ann"},"transform":[{"filter":"datum.k=='a'"}],"mark":{"type":"text","font":"Noto Sans CJK JP","fontSize":8,"fontWeight":500,"color":"#454545","align":"left","baseline":"middle"},
 "encoding":{"x":{"field":"d","type":"temporal"},"y":{"field":"y","type":"quantitative"},"text":{"field":"t"}}},
{"data":{"name":"ann"},"transform":[{"filter":"datum.k=='n'"}],"mark":{"type":"text","font":"Noto Sans CJK JP","fontSize":7,"fontWeight":500,"color":"#454545","align":"left","baseline":"middle"},
 "encoding":{"x":{"field":"d","type":"temporal"},"y":{"field":"y","type":"quantitative"},"text":{"field":"t"}}},
{"data":{"name":"ann"},"transform":[{"filter":"datum.k=='c'"}],"mark":{"type":"text","font":"Noto Sans CJK JP","fontSize":8,"color":"#8a8a8a","align":"center","baseline":"middle"},
 "encoding":{"x":{"field":"d","type":"temporal"},"y":{"field":"y","type":"quantitative"},"text":{"field":"t"}}}
]
}
],
"config":{"view":{"stroke":null,"fill":"white"},"font":"Noto Sans CJK JP"}
}
